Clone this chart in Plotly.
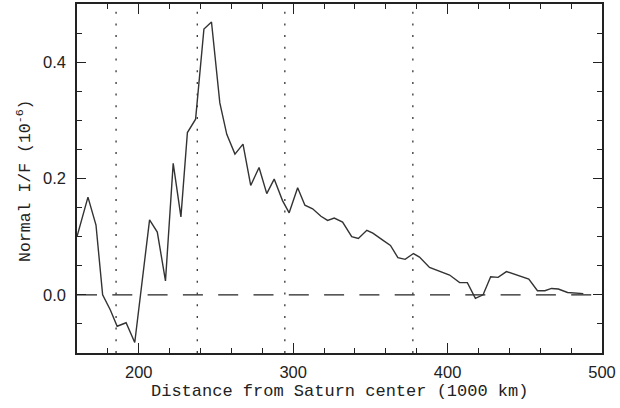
import plotly.graph_objects as go

distance = [160, 167.1, 172.3, 176.6, 181.6, 186.0, 191.8, 197.4, 207.0, 212.0,
            217.3, 222.3, 227.3, 231.5, 236.8, 242.2, 247.1, 250.5, 252.5, 257.0,
            262.3, 267.5, 272.5, 277.9, 282.9, 287.7, 293.1, 297.4, 302.9, 307.6,
            312.6, 318.0, 322.3, 326.6, 332.0, 337.9, 342.2, 347.7, 351.6, 358.0,
            363.0, 367.8, 372.5, 377.9, 381.8, 388.3, 393.8, 401.3, 407.8, 412.8,
            418.0, 423.0, 427.9, 432.7, 438.1, 444.6, 452.6, 458.2, 463.0, 467.3,
            471.7, 477.7, 482.5, 487.9]
intensity = [0.100, 0.168, 0.120, 0.000, -0.026, -0.054, -0.048, -0.082, 0.129, 0.108,
             0.024, 0.226, 0.134, 0.279, 0.302, 0.457, 0.469, 0.373, 0.330, 0.276,
             0.242, 0.259, 0.188, 0.219, 0.174, 0.199, 0.162, 0.141, 0.184, 0.154,
             0.148, 0.135, 0.128, 0.132, 0.125, 0.100, 0.097, 0.111, 0.106, 0.094,
             0.085, 0.064, 0.061, 0.071, 0.065, 0.047, 0.042, 0.034, 0.021, 0.021,
             -0.006, 0.000, 0.031, 0.030, 0.040, 0.034, 0.027, 0.007, 0.007, 0.011,
             0.010, 0.004, 0.003, 0.002]
boundaries = [185.3, 237.9, 294.6, 377.5]
x_range = [160, 500]
y_range = [-0.1, 0.5]
x_ticks = [200, 300, 400, 500]
y_ticks = [0.0, 0.2, 0.4]
y_tick_labels = ["0.0", "0.2", "0.4"]

fig = go.Figure()

# zero reference line
fig.add_trace(go.Scatter(x=x_range, y=[0, 0], mode="lines",
                         line=dict(color="#222", width=1.3, dash="20px,15.3px"),
                         hoverinfo="skip", showlegend=False))
# ring boundaries
for b in boundaries:
    fig.add_trace(go.Scatter(x=[b, b], y=y_range, mode="lines",
                             line=dict(color="#333", width=1.3, dash="2px,9.7px"),
                             hoverinfo="skip", showlegend=False))

fig.add_trace(go.Scatter(x=distance, y=intensity, mode="lines",
                         line=dict(color="#333", width=1.4), showlegend=False))

axis_common = dict(showline=True, linecolor="#222", linewidth=1.6, mirror="allticks",
                   ticks="inside", tickcolor="#222", tickwidth=1.2,
                   showgrid=False, zeroline=False,
                   tickfont=dict(family="Liberation Sans", size=16.5, color="#222"))

fig.update_xaxes(range=x_range, tickvals=x_ticks, ticklen=10,
                 minor=dict(dtick=20, ticks="inside", ticklen=5, tickcolor="#222", tickwidth=1.2, showgrid=False),
                 ticklabelstandoff=3, **axis_common)
fig.update_yaxes(range=y_range, tickvals=y_ticks, ticktext=y_tick_labels, ticklen=9,
                 minor=dict(dtick=0.05, tick0=0, ticks="inside", ticklen=5, tickcolor="#222", tickwidth=1.2, showgrid=False),
                 ticklabelstandoff=6, **axis_common)

fig.add_annotation(text="Distance from Saturn center (1000 km)", xref="paper", yref="paper",
                   x=0.5, y=-0.11, xanchor="center", yanchor="middle", showarrow=False,
                   font=dict(family="Liberation Mono", size=17, color="#222"))
fig.add_annotation(text="Normal I/F (10<sup>-6</sup>)", xref="paper", yref="paper",
                   x=-0.101, y=0.493, xanchor="center", yanchor="middle", showarrow=False,
                   textangle=-90,
                   font=dict(family="Liberation Mono", size=16.5, color="#222"))

fig.update_layout(width=620, height=408, margin=dict(l=77, r=18, t=2, b=55),
                  plot_bgcolor="white", paper_bgcolor="white")

fig.write_html("out.html")
